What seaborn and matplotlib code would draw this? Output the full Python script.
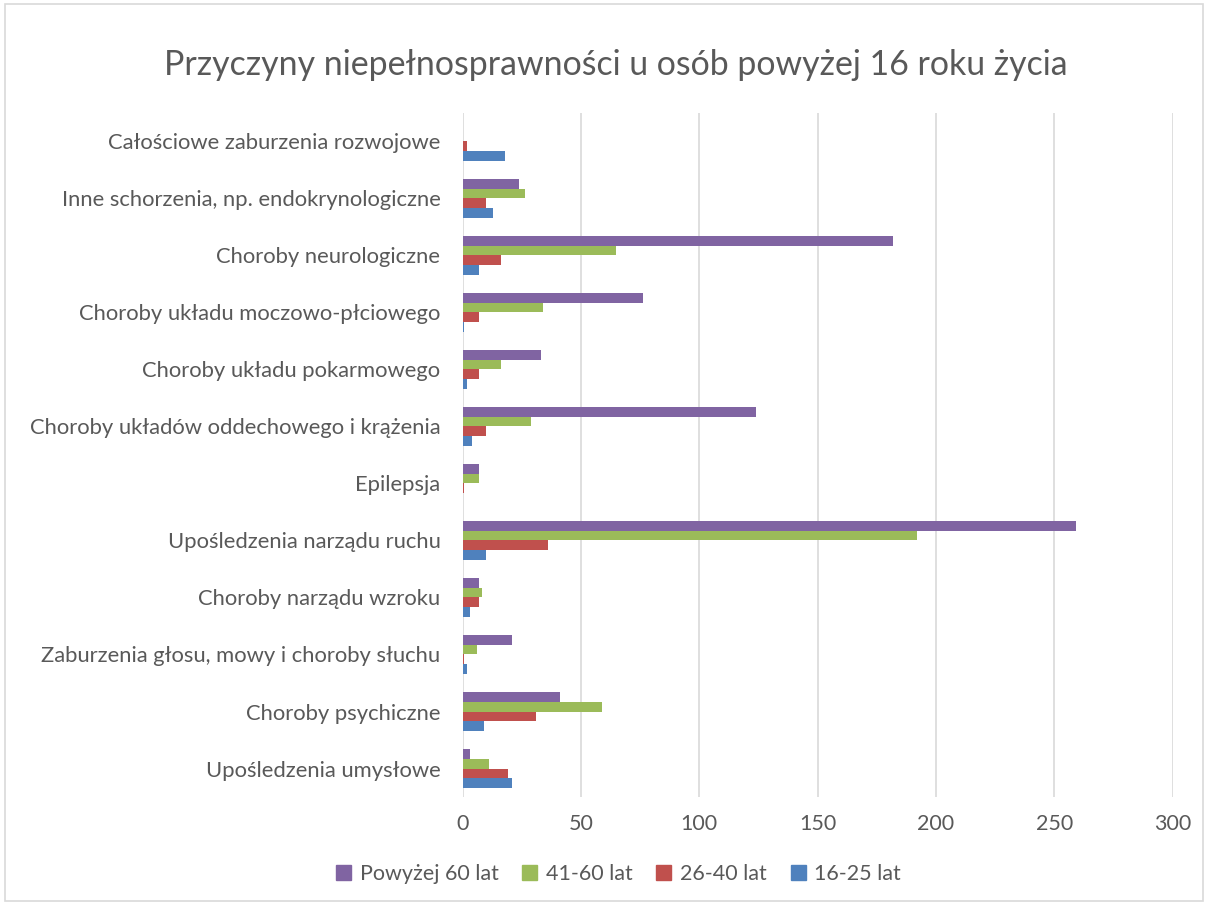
import pandas as pd
import matplotlib.pyplot as plt
import seaborn as sns
from matplotlib.patches import Rectangle

# dane
categories = [
    'Całościowe zaburzenia rozwojowe',
    'Inne schorzenia, np. endokrynologiczne',
    'Choroby neurologiczne',
    'Choroby układu moczowo-płciowego',
    'Choroby układu pokarmowego',
    'Choroby układów oddechowego i krążenia',
    'Epilepsja',
    'Upośledzenia narządu ruchu',
    'Choroby narządu wzroku',
    'Zaburzenia głosu, mowy i choroby słuchu',
    'Choroby psychiczne',
    'Upośledzenia umysłowe',
]
series = ['Powyżej 60 lat', '41-60 lat', '26-40 lat', '16-25 lat']
powyzej_60 = [0, 24, 182, 76, 33, 124, 7, 259, 7, 21, 41, 3]
lat_41_60 = [0, 26.5, 65, 34, 16, 29, 7, 192, 8, 6, 59, 11]
lat_26_40 = [2, 10, 16, 7, 7, 10, 0.5, 36, 7, 0.5, 31, 19]
lat_16_25 = [18, 13, 7, 0.5, 2, 4, 0, 10, 3, 2, 9, 21]
colors = ['#8064A2', '#9BBB59', '#C0504D', '#4F81BD']

df = pd.DataFrame({'Kategoria': categories,
                   series[0]: powyzej_60, series[1]: lat_41_60,
                   series[2]: lat_26_40, series[3]: lat_16_25})
df_long = df.melt(id_vars='Kategoria', var_name='Grupa', value_name='Liczba')

sns.set_style('white')
plt.rcParams['font.family'] = ['Lato', 'DejaVu Sans']

fig = plt.figure(figsize=(12.08, 9.05), dpi=100)
ax = fig.add_axes([0.383, 0.1193, 0.5877, 0.756])

sns.barplot(data=df_long, y='Kategoria', x='Liczba', hue='Grupa',
            order=categories, hue_order=series, palette=colors,
            orient='h', width=0.68, ax=ax, legend=False,
            edgecolor='none', saturation=1)

ax.set_xlim(0, 300)
ax.set_xticks(range(0, 301, 50))
ax.xaxis.grid(True, color='#d9d9d9', linewidth=1.2)
ax.set_axisbelow(True)
for s in ax.spines.values():
    s.set_visible(False)
ax.set_xlabel('')
ax.set_ylabel('')
ax.tick_params(axis='x', colors='#595959', labelsize=15.5, pad=12, length=0)
ax.tick_params(axis='y', colors='#595959', labelsize=15.8, pad=16, length=0)

fig.suptitle('Przyczyny niepełnosprawności u osób powyżej 16 roku życia',
             x=0.51, y=0.946, fontsize=24.4, color='#595959')

handles = [Rectangle((0, 0), 1, 1, color=c) for c in colors]
fig.legend(handles, series, loc='center', bbox_to_anchor=(0.512, 0.034),
           ncol=4, frameon=False, fontsize=15.5, labelcolor='#595959',
           handlelength=0.7, handleheight=0.7, handletextpad=0.4,
           columnspacing=1.1)

fig.patches.append(Rectangle((0.004, 0.004), 0.992, 0.992, transform=fig.transFigure,
                             fill=False, edgecolor='#d9d9d9', linewidth=1.2))

fig.savefig('out.png', dpi=100)
